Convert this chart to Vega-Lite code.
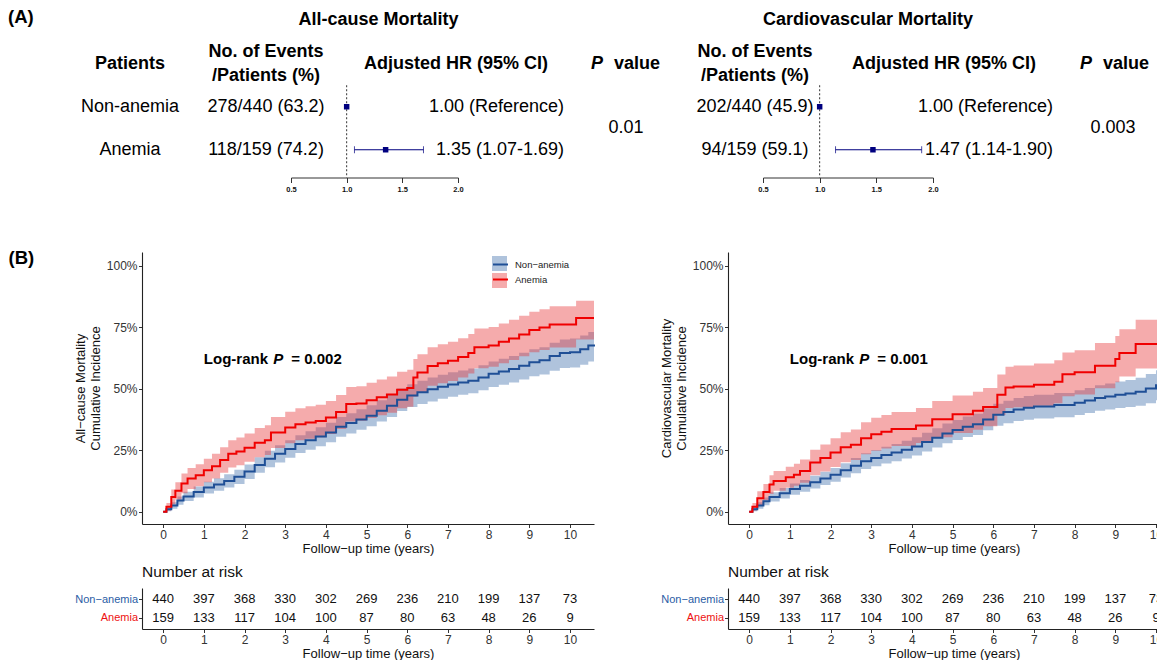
{
"$schema":"https://vega.github.io/schema/vega-lite/v6.json",
"padding":{"left":8,"top":8,"right":0,"bottom":0},
"config":{"view":{"stroke":null},"font":"Liberation Sans","axis":{"grid":false},"legend":{"labelFont":"Liberation Sans"}},
"datasets":{
"tab":[
{"outcome":"All-cause","row":"Non-anemia","events":"278/440 (63.2)","hr":1.00,"lower":null,"upper":null,"hrText":"1.00 (Reference)"},
{"outcome":"All-cause","row":"Anemia","events":"118/159 (74.2)","hr":1.35,"lower":1.07,"upper":1.69,"hrText":"1.35 (1.07-1.69)"},
{"outcome":"Cardiovascular","row":"Non-anemia","events":"202/440 (45.9)","hr":1.00,"lower":null,"upper":null,"hrText":"1.00 (Reference)"},
{"outcome":"Cardiovascular","row":"Anemia","events":"94/159 (59.1)","hr":1.47,"lower":1.14,"upper":1.90,"hrText":"1.47 (1.14-1.90)"}
],
"pv":[{"outcome":"All-cause","p":"0.01"},{"outcome":"Cardiovascular","p":"0.003"}],
"risk":[
{"group":"Non-anemia","t":0,"n":440},{"group":"Non-anemia","t":1,"n":397},{"group":"Non-anemia","t":2,"n":368},{"group":"Non-anemia","t":3,"n":330},{"group":"Non-anemia","t":4,"n":302},{"group":"Non-anemia","t":5,"n":269},{"group":"Non-anemia","t":6,"n":236},{"group":"Non-anemia","t":7,"n":210},{"group":"Non-anemia","t":8,"n":199},{"group":"Non-anemia","t":9,"n":137},{"group":"Non-anemia","t":10,"n":73},
{"group":"Anemia","t":0,"n":159},{"group":"Anemia","t":1,"n":133},{"group":"Anemia","t":2,"n":117},{"group":"Anemia","t":3,"n":104},{"group":"Anemia","t":4,"n":100},{"group":"Anemia","t":5,"n":87},{"group":"Anemia","t":6,"n":80},{"group":"Anemia","t":7,"n":63},{"group":"Anemia","t":8,"n":48},{"group":"Anemia","t":9,"n":26},{"group":"Anemia","t":10,"n":9}
],
"acm":[
{"group":"Non-anemia","t":0,"cum":0,"lo":0,"hi":0},
{"group":"Non-anemia","t":0.08,"cum":0.01,"lo":0.002,"hi":0.018},
{"group":"Non-anemia","t":0.2,"cum":0.025,"lo":0.012,"hi":0.038},
{"group":"Non-anemia","t":0.35,"cum":0.045,"lo":0.028,"hi":0.062},
{"group":"Non-anemia","t":0.5,"cum":0.062,"lo":0.043,"hi":0.081},
{"group":"Non-anemia","t":0.75,"cum":0.08,"lo":0.058,"hi":0.102},
{"group":"Non-anemia","t":1.0,"cum":0.098,"lo":0.074,"hi":0.122},
{"group":"Non-anemia","t":1.25,"cum":0.11,"lo":0.085,"hi":0.136},
{"group":"Non-anemia","t":1.5,"cum":0.125,"lo":0.098,"hi":0.152},
{"group":"Non-anemia","t":1.75,"cum":0.142,"lo":0.113,"hi":0.17},
{"group":"Non-anemia","t":2.0,"cum":0.163,"lo":0.133,"hi":0.192},
{"group":"Non-anemia","t":2.25,"cum":0.19,"lo":0.158,"hi":0.221},
{"group":"Non-anemia","t":2.5,"cum":0.215,"lo":0.181,"hi":0.248},
{"group":"Non-anemia","t":2.75,"cum":0.235,"lo":0.2,"hi":0.27},
{"group":"Non-anemia","t":3.0,"cum":0.255,"lo":0.219,"hi":0.29},
{"group":"Non-anemia","t":3.25,"cum":0.275,"lo":0.238,"hi":0.311},
{"group":"Non-anemia","t":3.5,"cum":0.29,"lo":0.252,"hi":0.327},
{"group":"Non-anemia","t":3.75,"cum":0.305,"lo":0.266,"hi":0.343},
{"group":"Non-anemia","t":4.0,"cum":0.322,"lo":0.282,"hi":0.361},
{"group":"Non-anemia","t":4.25,"cum":0.345,"lo":0.304,"hi":0.385},
{"group":"Non-anemia","t":4.5,"cum":0.36,"lo":0.318,"hi":0.4},
{"group":"Non-anemia","t":4.75,"cum":0.375,"lo":0.333,"hi":0.416},
{"group":"Non-anemia","t":5.0,"cum":0.39,"lo":0.347,"hi":0.432},
{"group":"Non-anemia","t":5.25,"cum":0.41,"lo":0.366,"hi":0.453},
{"group":"Non-anemia","t":5.5,"cum":0.43,"lo":0.385,"hi":0.474},
{"group":"Non-anemia","t":5.75,"cum":0.455,"lo":0.409,"hi":0.5},
{"group":"Non-anemia","t":6.0,"cum":0.472,"lo":0.425,"hi":0.518},
{"group":"Non-anemia","t":6.25,"cum":0.485,"lo":0.437,"hi":0.532},
{"group":"Non-anemia","t":6.5,"cum":0.497,"lo":0.448,"hi":0.545},
{"group":"Non-anemia","t":6.75,"cum":0.508,"lo":0.459,"hi":0.556},
{"group":"Non-anemia","t":7.0,"cum":0.517,"lo":0.467,"hi":0.566},
{"group":"Non-anemia","t":7.25,"cum":0.525,"lo":0.475,"hi":0.574},
{"group":"Non-anemia","t":7.5,"cum":0.532,"lo":0.481,"hi":0.582},
{"group":"Non-anemia","t":7.75,"cum":0.545,"lo":0.493,"hi":0.595},
{"group":"Non-anemia","t":8.0,"cum":0.56,"lo":0.507,"hi":0.61},
{"group":"Non-anemia","t":8.25,"cum":0.57,"lo":0.516,"hi":0.621},
{"group":"Non-anemia","t":8.5,"cum":0.58,"lo":0.525,"hi":0.632},
{"group":"Non-anemia","t":8.75,"cum":0.593,"lo":0.537,"hi":0.646},
{"group":"Non-anemia","t":9.0,"cum":0.607,"lo":0.55,"hi":0.66},
{"group":"Non-anemia","t":9.25,"cum":0.615,"lo":0.557,"hi":0.668},
{"group":"Non-anemia","t":9.5,"cum":0.632,"lo":0.573,"hi":0.686},
{"group":"Non-anemia","t":9.75,"cum":0.645,"lo":0.584,"hi":0.7},
{"group":"Non-anemia","t":10.0,"cum":0.648,"lo":0.586,"hi":0.704},
{"group":"Non-anemia","t":10.25,"cum":0.66,"lo":0.597,"hi":0.716},
{"group":"Non-anemia","t":10.45,"cum":0.675,"lo":0.61,"hi":0.73},
{"group":"Non-anemia","t":10.59,"cum":0.679,"lo":0.614,"hi":0.734},
{"group":"Anemia","t":0,"cum":0,"lo":0,"hi":0},
{"group":"Anemia","t":0.08,"cum":0.02,"lo":0.005,"hi":0.035},
{"group":"Anemia","t":0.2,"cum":0.06,"lo":0.03,"hi":0.09},
{"group":"Anemia","t":0.3,"cum":0.085,"lo":0.05,"hi":0.12},
{"group":"Anemia","t":0.45,"cum":0.115,"lo":0.075,"hi":0.155},
{"group":"Anemia","t":0.6,"cum":0.135,"lo":0.092,"hi":0.178},
{"group":"Anemia","t":0.8,"cum":0.148,"lo":0.103,"hi":0.193},
{"group":"Anemia","t":1.0,"cum":0.168,"lo":0.12,"hi":0.215},
{"group":"Anemia","t":1.2,"cum":0.185,"lo":0.135,"hi":0.235},
{"group":"Anemia","t":1.4,"cum":0.21,"lo":0.158,"hi":0.262},
{"group":"Anemia","t":1.6,"cum":0.235,"lo":0.18,"hi":0.29},
{"group":"Anemia","t":1.8,"cum":0.245,"lo":0.189,"hi":0.301},
{"group":"Anemia","t":2.0,"cum":0.26,"lo":0.203,"hi":0.318},
{"group":"Anemia","t":2.25,"cum":0.28,"lo":0.221,"hi":0.34},
{"group":"Anemia","t":2.5,"cum":0.29,"lo":0.23,"hi":0.351},
{"group":"Anemia","t":2.65,"cum":0.322,"lo":0.259,"hi":0.385},
{"group":"Anemia","t":3.0,"cum":0.342,"lo":0.278,"hi":0.406},
{"group":"Anemia","t":3.25,"cum":0.355,"lo":0.29,"hi":0.42},
{"group":"Anemia","t":3.5,"cum":0.362,"lo":0.296,"hi":0.428},
{"group":"Anemia","t":3.75,"cum":0.368,"lo":0.302,"hi":0.434},
{"group":"Anemia","t":4.0,"cum":0.383,"lo":0.316,"hi":0.45},
{"group":"Anemia","t":4.25,"cum":0.405,"lo":0.336,"hi":0.474},
{"group":"Anemia","t":4.5,"cum":0.437,"lo":0.366,"hi":0.507},
{"group":"Anemia","t":4.75,"cum":0.44,"lo":0.369,"hi":0.51},
{"group":"Anemia","t":5.0,"cum":0.453,"lo":0.381,"hi":0.524},
{"group":"Anemia","t":5.25,"cum":0.465,"lo":0.392,"hi":0.537},
{"group":"Anemia","t":5.5,"cum":0.476,"lo":0.402,"hi":0.549},
{"group":"Anemia","t":5.75,"cum":0.495,"lo":0.42,"hi":0.569},
{"group":"Anemia","t":6.0,"cum":0.502,"lo":0.426,"hi":0.577},
{"group":"Anemia","t":6.15,"cum":0.545,"lo":0.467,"hi":0.62},
{"group":"Anemia","t":6.25,"cum":0.565,"lo":0.486,"hi":0.64},
{"group":"Anemia","t":6.5,"cum":0.592,"lo":0.512,"hi":0.668},
{"group":"Anemia","t":6.75,"cum":0.603,"lo":0.522,"hi":0.68},
{"group":"Anemia","t":7.0,"cum":0.613,"lo":0.531,"hi":0.69},
{"group":"Anemia","t":7.25,"cum":0.628,"lo":0.545,"hi":0.705},
{"group":"Anemia","t":7.5,"cum":0.645,"lo":0.561,"hi":0.722},
{"group":"Anemia","t":7.65,"cum":0.668,"lo":0.583,"hi":0.744},
{"group":"Anemia","t":8.0,"cum":0.675,"lo":0.589,"hi":0.75},
{"group":"Anemia","t":8.25,"cum":0.69,"lo":0.603,"hi":0.765},
{"group":"Anemia","t":8.5,"cum":0.704,"lo":0.616,"hi":0.78},
{"group":"Anemia","t":8.75,"cum":0.72,"lo":0.631,"hi":0.796},
{"group":"Anemia","t":9.0,"cum":0.738,"lo":0.648,"hi":0.812},
{"group":"Anemia","t":9.25,"cum":0.748,"lo":0.657,"hi":0.822},
{"group":"Anemia","t":9.5,"cum":0.76,"lo":0.667,"hi":0.835},
{"group":"Anemia","t":10.15,"cum":0.787,"lo":0.7,"hi":0.857},
{"group":"Anemia","t":10.59,"cum":0.787,"lo":0.7,"hi":0.857}
],
"cvm":[
{"group":"Non-anemia","t":0,"cum":0,"lo":0,"hi":0},
{"group":"Non-anemia","t":0.08,"cum":0.01,"lo":0.002,"hi":0.018},
{"group":"Non-anemia","t":0.2,"cum":0.025,"lo":0.012,"hi":0.038},
{"group":"Non-anemia","t":0.35,"cum":0.042,"lo":0.026,"hi":0.058},
{"group":"Non-anemia","t":0.5,"cum":0.06,"lo":0.041,"hi":0.079},
{"group":"Non-anemia","t":0.75,"cum":0.075,"lo":0.054,"hi":0.096},
{"group":"Non-anemia","t":1.0,"cum":0.092,"lo":0.069,"hi":0.115},
{"group":"Non-anemia","t":1.25,"cum":0.105,"lo":0.081,"hi":0.129},
{"group":"Non-anemia","t":1.5,"cum":0.12,"lo":0.094,"hi":0.146},
{"group":"Non-anemia","t":1.75,"cum":0.135,"lo":0.108,"hi":0.162},
{"group":"Non-anemia","t":2.0,"cum":0.15,"lo":0.122,"hi":0.178},
{"group":"Non-anemia","t":2.25,"cum":0.168,"lo":0.139,"hi":0.197},
{"group":"Non-anemia","t":2.5,"cum":0.187,"lo":0.156,"hi":0.218},
{"group":"Non-anemia","t":2.75,"cum":0.205,"lo":0.173,"hi":0.237},
{"group":"Non-anemia","t":3.0,"cum":0.218,"lo":0.185,"hi":0.251},
{"group":"Non-anemia","t":3.25,"cum":0.23,"lo":0.196,"hi":0.264},
{"group":"Non-anemia","t":3.5,"cum":0.24,"lo":0.205,"hi":0.275},
{"group":"Non-anemia","t":3.75,"cum":0.252,"lo":0.216,"hi":0.288},
{"group":"Non-anemia","t":4.0,"cum":0.265,"lo":0.228,"hi":0.302},
{"group":"Non-anemia","t":4.25,"cum":0.283,"lo":0.245,"hi":0.321},
{"group":"Non-anemia","t":4.5,"cum":0.3,"lo":0.261,"hi":0.339},
{"group":"Non-anemia","t":4.75,"cum":0.318,"lo":0.278,"hi":0.358},
{"group":"Non-anemia","t":5.0,"cum":0.332,"lo":0.291,"hi":0.373},
{"group":"Non-anemia","t":5.25,"cum":0.345,"lo":0.303,"hi":0.387},
{"group":"Non-anemia","t":5.5,"cum":0.355,"lo":0.312,"hi":0.398},
{"group":"Non-anemia","t":5.75,"cum":0.375,"lo":0.331,"hi":0.419},
{"group":"Non-anemia","t":6.0,"cum":0.394,"lo":0.349,"hi":0.439},
{"group":"Non-anemia","t":6.25,"cum":0.405,"lo":0.359,"hi":0.451},
{"group":"Non-anemia","t":6.5,"cum":0.415,"lo":0.368,"hi":0.462},
{"group":"Non-anemia","t":6.75,"cum":0.422,"lo":0.374,"hi":0.47},
{"group":"Non-anemia","t":7.0,"cum":0.427,"lo":0.379,"hi":0.475},
{"group":"Non-anemia","t":7.5,"cum":0.433,"lo":0.384,"hi":0.482},
{"group":"Non-anemia","t":8.0,"cum":0.443,"lo":0.393,"hi":0.493},
{"group":"Non-anemia","t":8.25,"cum":0.452,"lo":0.401,"hi":0.503},
{"group":"Non-anemia","t":8.5,"cum":0.462,"lo":0.41,"hi":0.514},
{"group":"Non-anemia","t":8.75,"cum":0.468,"lo":0.415,"hi":0.521},
{"group":"Non-anemia","t":9.0,"cum":0.475,"lo":0.421,"hi":0.529},
{"group":"Non-anemia","t":9.25,"cum":0.48,"lo":0.425,"hi":0.535},
{"group":"Non-anemia","t":9.5,"cum":0.487,"lo":0.43,"hi":0.544},
{"group":"Non-anemia","t":9.75,"cum":0.5,"lo":0.441,"hi":0.559},
{"group":"Non-anemia","t":10.0,"cum":0.514,"lo":0.453,"hi":0.575},
{"group":"Non-anemia","t":10.3,"cum":0.522,"lo":0.46,"hi":0.584},
{"group":"Non-anemia","t":10.59,"cum":0.525,"lo":0.462,"hi":0.588},
{"group":"Anemia","t":0,"cum":0,"lo":0,"hi":0},
{"group":"Anemia","t":0.08,"cum":0.02,"lo":0.005,"hi":0.035},
{"group":"Anemia","t":0.2,"cum":0.055,"lo":0.027,"hi":0.083},
{"group":"Anemia","t":0.35,"cum":0.08,"lo":0.047,"hi":0.113},
{"group":"Anemia","t":0.5,"cum":0.11,"lo":0.072,"hi":0.148},
{"group":"Anemia","t":0.6,"cum":0.125,"lo":0.085,"hi":0.165},
{"group":"Anemia","t":0.9,"cum":0.14,"lo":0.097,"hi":0.183},
{"group":"Anemia","t":1.1,"cum":0.15,"lo":0.105,"hi":0.195},
{"group":"Anemia","t":1.25,"cum":0.165,"lo":0.118,"hi":0.212},
{"group":"Anemia","t":1.5,"cum":0.2,"lo":0.148,"hi":0.252},
{"group":"Anemia","t":1.75,"cum":0.218,"lo":0.163,"hi":0.273},
{"group":"Anemia","t":2.0,"cum":0.24,"lo":0.182,"hi":0.298},
{"group":"Anemia","t":2.25,"cum":0.262,"lo":0.201,"hi":0.323},
{"group":"Anemia","t":2.5,"cum":0.272,"lo":0.21,"hi":0.334},
{"group":"Anemia","t":2.75,"cum":0.298,"lo":0.233,"hi":0.363},
{"group":"Anemia","t":3.0,"cum":0.315,"lo":0.248,"hi":0.382},
{"group":"Anemia","t":3.25,"cum":0.325,"lo":0.257,"hi":0.393},
{"group":"Anemia","t":3.5,"cum":0.336,"lo":0.267,"hi":0.405},
{"group":"Anemia","t":4.1,"cum":0.35,"lo":0.279,"hi":0.421},
{"group":"Anemia","t":4.5,"cum":0.376,"lo":0.302,"hi":0.45},
{"group":"Anemia","t":5.0,"cum":0.396,"lo":0.32,"hi":0.472},
{"group":"Anemia","t":5.5,"cum":0.41,"lo":0.333,"hi":0.487},
{"group":"Anemia","t":5.75,"cum":0.425,"lo":0.347,"hi":0.503},
{"group":"Anemia","t":6.1,"cum":0.475,"lo":0.393,"hi":0.557},
{"group":"Anemia","t":6.3,"cum":0.505,"lo":0.421,"hi":0.589},
{"group":"Anemia","t":6.5,"cum":0.509,"lo":0.424,"hi":0.594},
{"group":"Anemia","t":7.0,"cum":0.516,"lo":0.43,"hi":0.602},
{"group":"Anemia","t":7.5,"cum":0.528,"lo":0.441,"hi":0.615},
{"group":"Anemia","t":7.7,"cum":0.558,"lo":0.469,"hi":0.647},
{"group":"Anemia","t":8.0,"cum":0.566,"lo":0.476,"hi":0.656},
{"group":"Anemia","t":8.5,"cum":0.593,"lo":0.501,"hi":0.685},
{"group":"Anemia","t":9.0,"cum":0.62,"lo":0.526,"hi":0.714},
{"group":"Anemia","t":9.1,"cum":0.645,"lo":0.549,"hi":0.741},
{"group":"Anemia","t":9.5,"cum":0.681,"lo":0.582,"hi":0.78},
{"group":"Anemia","t":10.59,"cum":0.681,"lo":0.582,"hi":0.78}
]
},
"concat":[
{"hconcat":[
 {"width":11,"height":141.5,"title":{"text":"(A)","anchor":"start","frame":"group","fontSize":18.5,"fontWeight":"bold","baseline":"middle","offset":0.5,"color":"#000"},"data":{"values":[{}]},"mark":{"type":"text","text":""}},
 {"width":222,"height":141.5,"layer":[
  {"data":{"values":[{}]},"mark":{"type":"text","text":"Patients","fontSize":18,"fontWeight":"bold","color":"#000"},"encoding":{"y":{"datum":"header","type":"nominal","scale":{"type":"band","domain":["header","Non-anemia","Anemia"],"paddingInner":0,"paddingOuter":0.145},"axis":null}}},
  {"data":{"name":"tab"},"transform":[{"filter":"datum.outcome === 'All-cause'"}],"mark":{"type":"text","fontSize":18,"color":"#000"},"encoding":{"y":{"field":"row","type":"nominal","scale":{"type":"band","domain":["header","Non-anemia","Anemia"],"paddingInner":0,"paddingOuter":0.145},"axis":null},"text":{"field":"row"}}}
 ]},
 {"width":50,"height":141.5,"layer":[
  {"data":{"values":[{}]},"mark":{"type":"text","text":"No. of Events\n/Patients (%)","lineBreak":"\n","lineHeight":24,"fontSize":18,"fontWeight":"bold","color":"#000"},"encoding":{"y":{"datum":"header","type":"nominal","bandPosition":0.227,"scale":{"type":"band","domain":["header","Non-anemia","Anemia"],"paddingInner":0,"paddingOuter":0.145},"axis":null}}},
  {"data":{"name":"tab"},"transform":[{"filter":"datum.outcome === 'All-cause'"}],"mark":{"type":"text","fontSize":18,"color":"#000"},"encoding":{"y":{"field":"row","type":"nominal","scale":{"type":"band","domain":["header","Non-anemia","Anemia"],"paddingInner":0,"paddingOuter":0.145},"axis":null},"text":{"field":"events"}}}
 ]},
 {"width":167,"height":141.5,"title":{"text":"All-cause Mortality","anchor":"middle","frame":"group","fontSize":18,"fontWeight":"bold","baseline":"middle","offset":-1.5,"dx":4,"color":"#000"},"layer":[
  {"data":{"values":[{}]},"mark":{"type":"rule","strokeDash":[2,2],"color":"#333","strokeWidth":1},"encoding":{"x":{"datum":1,"type":"quantitative","scale":{"domain":[0.5,2],"nice":false,"zero":false},"axis":{"values":[0.5,1,1.5,2],"format":".1f","labelFontSize":7.5,"labelFontWeight":"bold","labelColor":"#111","tickSize":5,"tickColor":"#333","domainColor":"#333","labelPadding":3,"title":null,"grid":false,"labelFlush":false}},"y":{"datum":"Non-anemia","type":"nominal","bandPosition":0,"scale":{"type":"band","domain":["header","Non-anemia","Anemia"],"paddingInner":0,"paddingOuter":0.145},"axis":null},"y2":{"value":"height"}}},
  {"data":{"name":"tab"},"transform":[{"filter":"datum.outcome === 'All-cause' && datum.lower != null"}],"mark":{"type":"rule","color":"#00007F","strokeWidth":1},"encoding":{"x":{"field":"lower","type":"quantitative"},"x2":{"field":"upper"},"y":{"field":"row","type":"nominal"}}},
  {"data":{"name":"tab"},"transform":[{"filter":"datum.outcome === 'All-cause' && datum.lower != null"}],"mark":{"type":"tick","size":7,"thickness":1,"color":"#00007F"},"encoding":{"x":{"field":"lower","type":"quantitative"},"y":{"field":"row","type":"nominal"}}},
  {"data":{"name":"tab"},"transform":[{"filter":"datum.outcome === 'All-cause' && datum.lower != null"}],"mark":{"type":"tick","size":7,"thickness":1,"color":"#00007F"},"encoding":{"x":{"field":"upper","type":"quantitative"},"y":{"field":"row","type":"nominal"}}},
  {"data":{"name":"tab"},"transform":[{"filter":"datum.outcome === 'All-cause'"}],"mark":{"type":"square","filled":true,"size":30,"color":"#00007F","opacity":1},"encoding":{"x":{"field":"hr","type":"quantitative"},"y":{"field":"row","type":"nominal"}}}
 ]},
 {"width":106,"height":141.5,"layer":[
  {"data":{"values":[{}]},"mark":{"type":"text","text":"Adjusted HR (95% CI)","fontSize":18,"fontWeight":"bold","align":"right","dx":-16,"color":"#000"},"encoding":{"x":{"value":"width"},"y":{"datum":"header","type":"nominal","scale":{"type":"band","domain":["header","Non-anemia","Anemia"],"paddingInner":0,"paddingOuter":0.145},"axis":null}}},
  {"data":{"name":"tab"},"transform":[{"filter":"datum.outcome === 'All-cause'"}],"mark":{"type":"text","fontSize":18,"align":"right","color":"#000"},"encoding":{"x":{"value":"width"},"y":{"field":"row","type":"nominal","scale":{"type":"band","domain":["header","Non-anemia","Anemia"],"paddingInner":0,"paddingOuter":0.145},"axis":null},"text":{"field":"hrText"}}}
 ]},
 {"width":124,"height":141.5,"layer":[
  {"data":{"values":[{}]},"mark":{"type":"text","text":"P","fontSize":18,"fontWeight":"bold","fontStyle":"italic","align":"right","dx":-23,"color":"#000"},"encoding":{"y":{"datum":"header","type":"nominal","scale":{"type":"band","domain":["header","Non-anemia","Anemia"],"paddingInner":0,"paddingOuter":0.145},"axis":null}}},
  {"data":{"values":[{}]},"mark":{"type":"text","text":"value","fontSize":18,"fontWeight":"bold","align":"left","dx":-12,"color":"#000"},"encoding":{"y":{"datum":"header","type":"nominal","scale":{"type":"band","domain":["header","Non-anemia","Anemia"],"paddingInner":0,"paddingOuter":0.145},"axis":null}}},
  {"data":{"name":"pv"},"transform":[{"filter":"datum.outcome === 'All-cause'"}],"mark":{"type":"text","fontSize":18,"color":"#000"},"encoding":{"y":{"datum":"Anemia","type":"nominal","bandPosition":0,"scale":{"type":"band","domain":["header","Non-anemia","Anemia"],"paddingInner":0,"paddingOuter":0.145},"axis":null},"text":{"field":"p"}}}
 ]},
 {"width":59,"height":141.5,"data":{"values":[{}]},"mark":{"type":"text","text":""}},
 {"width":16,"height":141.5,"layer":[
  {"data":{"values":[{}]},"mark":{"type":"text","text":"No. of Events\n/Patients (%)","lineBreak":"\n","lineHeight":24,"fontSize":18,"fontWeight":"bold","color":"#000"},"encoding":{"y":{"datum":"header","type":"nominal","bandPosition":0.227,"scale":{"type":"band","domain":["header","Non-anemia","Anemia"],"paddingInner":0,"paddingOuter":0.145},"axis":null}}},
  {"data":{"name":"tab"},"transform":[{"filter":"datum.outcome === 'Cardiovascular'"}],"mark":{"type":"text","fontSize":18,"color":"#000"},"encoding":{"y":{"field":"row","type":"nominal","scale":{"type":"band","domain":["header","Non-anemia","Anemia"],"paddingInner":0,"paddingOuter":0.145},"axis":null},"text":{"field":"events"}}}
 ]},
 {"width":170,"height":141.5,"title":{"text":"Cardiovascular Mortality","anchor":"middle","frame":"group","fontSize":18,"fontWeight":"bold","baseline":"middle","offset":-1.5,"dx":20,"color":"#000"},"layer":[
  {"data":{"values":[{}]},"mark":{"type":"rule","strokeDash":[2,2],"color":"#333","strokeWidth":1},"encoding":{"x":{"datum":1,"type":"quantitative","scale":{"domain":[0.5,2],"nice":false,"zero":false},"axis":{"values":[0.5,1,1.5,2],"format":".1f","labelFontSize":7.5,"labelFontWeight":"bold","labelColor":"#111","tickSize":5,"tickColor":"#333","domainColor":"#333","labelPadding":3,"title":null,"grid":false,"labelFlush":false}},"y":{"datum":"Non-anemia","type":"nominal","bandPosition":0,"scale":{"type":"band","domain":["header","Non-anemia","Anemia"],"paddingInner":0,"paddingOuter":0.145},"axis":null},"y2":{"value":"height"}}},
  {"data":{"name":"tab"},"transform":[{"filter":"datum.outcome === 'Cardiovascular' && datum.lower != null"}],"mark":{"type":"rule","color":"#00007F","strokeWidth":1},"encoding":{"x":{"field":"lower","type":"quantitative"},"x2":{"field":"upper"},"y":{"field":"row","type":"nominal"}}},
  {"data":{"name":"tab"},"transform":[{"filter":"datum.outcome === 'Cardiovascular' && datum.lower != null"}],"mark":{"type":"tick","size":7,"thickness":1,"color":"#00007F"},"encoding":{"x":{"field":"lower","type":"quantitative"},"y":{"field":"row","type":"nominal"}}},
  {"data":{"name":"tab"},"transform":[{"filter":"datum.outcome === 'Cardiovascular' && datum.lower != null"}],"mark":{"type":"tick","size":7,"thickness":1,"color":"#00007F"},"encoding":{"x":{"field":"upper","type":"quantitative"},"y":{"field":"row","type":"nominal"}}},
  {"data":{"name":"tab"},"transform":[{"filter":"datum.outcome === 'Cardiovascular'"}],"mark":{"type":"square","filled":true,"size":30,"color":"#00007F","opacity":1},"encoding":{"x":{"field":"hr","type":"quantitative"},"y":{"field":"row","type":"nominal"}}}
 ]},
 {"width":120,"height":141.5,"layer":[
  {"data":{"values":[{}]},"mark":{"type":"text","text":"Adjusted HR (95% CI)","fontSize":18,"fontWeight":"bold","align":"right","dx":-17,"color":"#000"},"encoding":{"x":{"value":"width"},"y":{"datum":"header","type":"nominal","scale":{"type":"band","domain":["header","Non-anemia","Anemia"],"paddingInner":0,"paddingOuter":0.145},"axis":null}}},
  {"data":{"name":"tab"},"transform":[{"filter":"datum.outcome === 'Cardiovascular'"}],"mark":{"type":"text","fontSize":18,"align":"right","color":"#000"},"encoding":{"x":{"value":"width"},"y":{"field":"row","type":"nominal","scale":{"type":"band","domain":["header","Non-anemia","Anemia"],"paddingInner":0,"paddingOuter":0.145},"axis":null},"text":{"field":"hrText"}}}
 ]},
 {"width":120,"height":141.5,"layer":[
  {"data":{"values":[{}]},"mark":{"type":"text","text":"P","fontSize":18,"fontWeight":"bold","fontStyle":"italic","align":"right","dx":-21,"color":"#000"},"encoding":{"y":{"datum":"header","type":"nominal","scale":{"type":"band","domain":["header","Non-anemia","Anemia"],"paddingInner":0,"paddingOuter":0.145},"axis":null}}},
  {"data":{"values":[{}]},"mark":{"type":"text","text":"value","fontSize":18,"fontWeight":"bold","align":"left","dx":-10,"color":"#000"},"encoding":{"y":{"datum":"header","type":"nominal","scale":{"type":"band","domain":["header","Non-anemia","Anemia"],"paddingInner":0,"paddingOuter":0.145},"axis":null}}},
  {"data":{"name":"pv"},"transform":[{"filter":"datum.outcome === 'Cardiovascular'"}],"mark":{"type":"text","fontSize":18,"color":"#000"},"encoding":{"y":{"datum":"Anemia","type":"nominal","bandPosition":0,"scale":{"type":"band","domain":["header","Non-anemia","Anemia"],"paddingInner":0,"paddingOuter":0.145},"axis":null},"text":{"field":"p"}}}
 ]}
],"spacing":0,"bounds":"flush"},
 {"width":1,"height":151.5,"data":{"values":[{}]},"mark":{"type":"text","text":""}},
 {"width":1,"height":1,"data":{"values":[{}]},"mark":{"type":"text","text":""}},
 {"width":1,"height":1,"data":{"values":[{}]},"mark":{"type":"text","text":""}},

 {"width":1,"height":12,"data":{"values":[{}]},"mark":{"type":"text","text":"(B)","fontSize":18.5,"fontWeight":"bold","align":"left","color":"#000"}},
 {"width":452,"height":272,"layer":[
   {"data":{"name":"acm"},"mark":{"type":"area","interpolate":"step-after","opacity":0.42},"encoding":{
     "x":{"field":"t","type":"quantitative","scale":{"domain":[-0.52,10.59],"nice":false,"zero":false},"axis":{"values":[0,1,2,3,4,5,6,7,8,9,10],"labelFontSize":12,"labelColor":"#333","tickSize":3.5,"tickColor":"#333","domainColor":"#222","domainWidth":1.1,"labelPadding":1.5,"title":"Follow−up time (years)","titleFontSize":13,"titleFontWeight":"normal","titleColor":"#111","titlePadding":2,"grid":false,"labelFlush":false}},
     "y":{"field":"lo","type":"quantitative","scale":{"domain":[-0.05,1.055],"nice":false,"zero":false},"axis":{"values":[0,0.25,0.5,0.75,1],"format":".0%","labelFontSize":12,"labelColor":"#333","tickSize":3.5,"tickColor":"#333","domainColor":"#222","domainWidth":1.1,"labelPadding":1.5,"title":["All−cause Mortality","Cumulative Incidence"],"titleFontSize":13,"titleFontWeight":"normal","titleColor":"#111","titlePadding":4,"titleLineHeight":15,"grid":false}},
     "y2":{"field":"hi"},
     "fill":{"field":"group","type":"nominal","sort":["Non-anemia","Anemia"],"scale":{"range":["#4070AC","#E8383A"]},"legend":{"orient":"none","legendX":484,"legendY":220,"title":null,"symbolType":"square","symbolSize":225,"symbolOpacity":0.42,"symbolStrokeWidth":0,"labelFontSize":9.5,"labelOffset":6,"rowPadding":2,"padding":0,"labelOpacity":0,"labelExpr":"replace(datum.label,'-','−')"}}}},
   {"data":{"name":"acm"},"mark":{"type":"line","interpolate":"step-after","strokeWidth":2},"encoding":{
     "x":{"field":"t","type":"quantitative"},"y":{"field":"cum","type":"quantitative"},
     "stroke":{"field":"group","type":"nominal","scale":{"domain":["Non-anemia","Anemia"],"range":["#1F4F96","#F00000"]},"legend":{"orient":"none","legendX":484,"legendY":220,"title":null,"symbolType":"stroke","symbolSize":225,"symbolStrokeWidth":2,"labelFontSize":9.5,"labelColor":"#222","labelOffset":6,"rowPadding":2,"padding":0,"labelExpr":"replace(datum.label,'-','−')"}}}},
   {"data":{"values":[{}]},"mark":{"type":"text","text":"Log-rank","fontSize":15,"fontWeight":"bold","align":"left","color":"#000"},"encoding":{"x":{"datum":1,"type":"quantitative"},"y":{"datum":0.62,"type":"quantitative"}}},
   {"data":{"values":[{}]},"mark":{"type":"text","text":"P","fontSize":15,"fontWeight":"bold","fontStyle":"italic","align":"left","dx":69.5,"color":"#000"},"encoding":{"x":{"datum":1,"type":"quantitative"},"y":{"datum":0.62,"type":"quantitative"}}},
   {"data":{"values":[{}]},"mark":{"type":"text","text":"= 0.002","fontSize":15,"fontWeight":"bold","align":"left","dx":87.5,"color":"#000"},"encoding":{"x":{"datum":1,"type":"quantitative"},"y":{"datum":0.62,"type":"quantitative"}}}
 ]},
 {"width":1,"height":1,"data":{"values":[{}]},"mark":{"type":"text","text":""}},
 {"width":452,"height":272,"layer":[
   {"data":{"name":"cvm"},"mark":{"type":"area","interpolate":"step-after","opacity":0.42},"encoding":{
     "x":{"field":"t","type":"quantitative","scale":{"domain":[-0.52,10.59],"nice":false,"zero":false},"axis":{"values":[0,1,2,3,4,5,6,7,8,9,10],"labelFontSize":12,"labelColor":"#333","tickSize":3.5,"tickColor":"#333","domainColor":"#222","domainWidth":1.1,"labelPadding":1.5,"title":"Follow−up time (years)","titleFontSize":13,"titleFontWeight":"normal","titleColor":"#111","titlePadding":2,"grid":false,"labelFlush":false}},
     "y":{"field":"lo","type":"quantitative","scale":{"domain":[-0.05,1.055],"nice":false,"zero":false},"axis":{"values":[0,0.25,0.5,0.75,1],"format":".0%","labelFontSize":12,"labelColor":"#333","tickSize":3.5,"tickColor":"#333","domainColor":"#222","domainWidth":1.1,"labelPadding":1.5,"title":["Cardiovascular Mortality","Cumulative Incidence"],"titleFontSize":13,"titleFontWeight":"normal","titleColor":"#111","titlePadding":4,"titleLineHeight":15,"grid":false}},
     "y2":{"field":"hi"},
     "fill":{"field":"group","type":"nominal","sort":["Non-anemia","Anemia"],"scale":{"range":["#4070AC","#E8383A"]},"legend":{"orient":"none","legendX":1070,"legendY":220,"title":null,"symbolType":"square","symbolSize":225,"symbolOpacity":0.42,"symbolStrokeWidth":0,"labelFontSize":9.5,"labelOffset":6,"rowPadding":2,"padding":0,"labelOpacity":0,"labelExpr":"replace(datum.label,'-','−')"}}}},
   {"data":{"name":"cvm"},"mark":{"type":"line","interpolate":"step-after","strokeWidth":2},"encoding":{
     "x":{"field":"t","type":"quantitative"},"y":{"field":"cum","type":"quantitative"},
     "stroke":{"field":"group","type":"nominal","scale":{"domain":["Non-anemia","Anemia"],"range":["#1F4F96","#F00000"]},"legend":{"orient":"none","legendX":1070,"legendY":220,"title":null,"symbolType":"stroke","symbolSize":225,"symbolStrokeWidth":2,"labelFontSize":9.5,"labelColor":"#222","labelOffset":6,"rowPadding":2,"padding":0,"labelExpr":"replace(datum.label,'-','−')"}}}},
   {"data":{"values":[{}]},"mark":{"type":"text","text":"Log-rank","fontSize":15,"fontWeight":"bold","align":"left","color":"#000"},"encoding":{"x":{"datum":1,"type":"quantitative"},"y":{"datum":0.62,"type":"quantitative"}}},
   {"data":{"values":[{}]},"mark":{"type":"text","text":"P","fontSize":15,"fontWeight":"bold","fontStyle":"italic","align":"left","dx":69.5,"color":"#000"},"encoding":{"x":{"datum":1,"type":"quantitative"},"y":{"datum":0.62,"type":"quantitative"}}},
   {"data":{"values":[{}]},"mark":{"type":"text","text":"= 0.001","fontSize":15,"fontWeight":"bold","align":"left","dx":87.5,"color":"#000"},"encoding":{"x":{"datum":1,"type":"quantitative"},"y":{"datum":0.62,"type":"quantitative"}}}
 ]},

 {"width":134,"height":1,"data":{"values":[{}]},"mark":{"type":"text","text":""}},
 {"width":452,"height":41,"title":{"text":"Number at risk","anchor":"start","frame":"group","fontSize":15.5,"fontWeight":"normal","offset":8,"color":"#111"},
   "data":{"name":"risk"},"mark":{"type":"text","fontSize":13,"color":"#111"},
   "encoding":{
    "x":{"field":"t","type":"quantitative","scale":{"domain":[-0.52,10.59],"nice":false,"zero":false},"axis":{"values":[0,1,2,3,4,5,6,7,8,9,10],"labelFontSize":12,"labelColor":"#333","tickSize":3.5,"tickColor":"#333","domainColor":"#222","domainWidth":1.1,"labelPadding":1.5,"title":"Follow−up time (years)","titleFontSize":13,"titleFontWeight":"normal","titleColor":"#111","titlePadding":2,"grid":false,"labelFlush":false}},
    "y":{"field":"group","type":"nominal","scale":{"type":"point","domain":["Non-anemia","Anemia"],"padding":0.58},"axis":{"title":null,"labelFontSize":11,"tickSize":3.5,"tickColor":"#333","domainColor":"#222","domainWidth":1.1,"labelPadding":1,"labelExpr":"replace(datum.label,'-','−')","labelColor":{"condition":{"test":"datum.value === 'Anemia'","value":"#EE1111"},"value":"#2B5DA5"}}},
    "text":{"field":"n"}}},
 {"width":134,"height":1,"data":{"values":[{}]},"mark":{"type":"text","text":""}},
 {"width":452,"height":41,"title":{"text":"Number at risk","anchor":"start","frame":"group","fontSize":15.5,"fontWeight":"normal","offset":8,"color":"#111"},
   "data":{"name":"risk"},"mark":{"type":"text","fontSize":13,"color":"#111"},
   "encoding":{
    "x":{"field":"t","type":"quantitative","scale":{"domain":[-0.52,10.59],"nice":false,"zero":false},"axis":{"values":[0,1,2,3,4,5,6,7,8,9,10],"labelFontSize":12,"labelColor":"#333","tickSize":3.5,"tickColor":"#333","domainColor":"#222","domainWidth":1.1,"labelPadding":1.5,"title":"Follow−up time (years)","titleFontSize":13,"titleFontWeight":"normal","titleColor":"#111","titlePadding":2,"grid":false,"labelFlush":false}},
    "y":{"field":"group","type":"nominal","scale":{"type":"point","domain":["Non-anemia","Anemia"],"padding":0.58},"axis":{"title":null,"labelFontSize":11,"tickSize":3.5,"tickColor":"#333","domainColor":"#222","domainWidth":1.1,"labelPadding":1,"labelExpr":"replace(datum.label,'-','−')","labelColor":{"condition":{"test":"datum.value === 'Anemia'","value":"#EE1111"},"value":"#2B5DA5"}}},
    "text":{"field":"n"}}}
],
"columns":4,
"align":"each",
"bounds":"flush",
"spacing":{"row":64,"column":0}
}
